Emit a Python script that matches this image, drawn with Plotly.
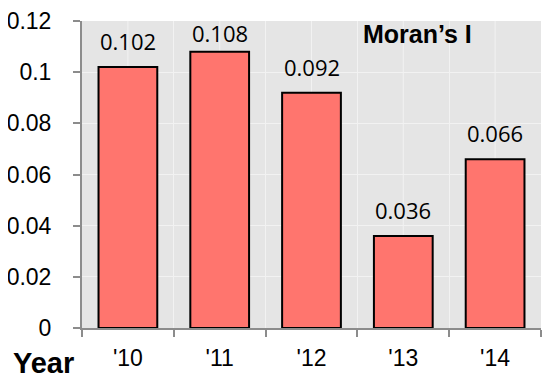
import plotly.graph_objects as go

years = ["'10", "'11", "'12", "'13", "'14"]
morans_i = [0.102, 0.108, 0.092, 0.036, 0.066]
value_labels = ["0.102", "0.108", "0.092", "0.036", "0.066"]
y_ticks = [0, 0.02, 0.04, 0.06, 0.08, 0.1, 0.12]
y_tick_text = ["0", "0.02", "0.04", "0.06", "0.08", "0.1", "0.12"]

OFF = 8  # browser default body margin
W, H = 550 - OFF, 379 - OFF
# plot area in page coordinates: x 82..541, y 21..328
ML, MR, MT, MB = 82 - OFF, 9, 21 - OFF, 51
ymax = 0.12
plot_h = H - MT - MB
plot_w = W - ML - MR
label_h = 30


def px_x(page_x):
    return (page_x - OFF - ML) / plot_w


def px_y(page_y):
    return (H - MB - (page_y - OFF)) / plot_h


fig = go.Figure()
fig.add_trace(go.Bar(
    x=years, y=morans_i,
    marker=dict(color="#FF756E", line=dict(color="black", width=2)),
    width=0.64,
))

# value labels above bars, kept inside the plot area
for x, v, t in zip(years, morans_i, value_labels):
    top_px = (v / ymax) * plot_h
    room = plot_h - top_px - label_h + 1
    shift = max(0, min(9, room))
    fig.add_annotation(x=x, y=v, text=t, showarrow=False, yanchor="bottom",
                       yshift=shift,
                       font=dict(family="Open Sans", size=22, color="black"))

# light gridlines at category centres
for x in years:
    fig.add_shape(type="line", x0=x, x1=x, y0=0, y1=1, yref="paper",
                  line=dict(color="#F2F2F2", width=1), layer="below")

fig.add_annotation(x=px_x(417), y=px_y(34), xref="paper", yref="paper",
                   text="<b>Moran’s I</b>",
                   showarrow=False, xanchor="center", yanchor="middle",
                   font=dict(family="Liberation Sans", size=25, color="black"))
fig.add_annotation(x=px_x(11), y=px_y(363), xref="paper", yref="paper",
                   text="<b>Year</b>",
                   showarrow=False, xanchor="left", yanchor="middle",
                   font=dict(family="Liberation Sans", size=29, color="black"))

fig.update_layout(
    width=W, height=H,
    margin=dict(l=ML, r=MR, t=MT, b=MB, autoexpand=False),
    paper_bgcolor="white", plot_bgcolor="#E5E5E5",
    showlegend=False,
    bargap=0.36,
)
fig.update_xaxes(
    type="category", tickson="boundaries", ticks="outside", ticklen=7,
    tickcolor="#8C8C8C", tickwidth=2, automargin=False,
    showline=True, linecolor="#8C8C8C", linewidth=2,
    showgrid=True, gridcolor="#F2F2F2", gridwidth=1,
    tickfont=dict(family="Liberation Sans", size=23, color="black"),
    ticklabelstandoff=8,
    range=[-0.5, 4.5],
)
fig.update_yaxes(
    range=[0, ymax], tickvals=y_ticks, ticktext=y_tick_text,
    ticks="outside", ticklen=7, tickcolor="#8C8C8C", tickwidth=2, automargin=False,
    showline=True, linecolor="#8C8C8C", linewidth=2,
    showgrid=True, gridcolor="#F2F2F2", gridwidth=1, zeroline=False,
    tickfont=dict(family="Liberation Sans", size=23, color="black"),
    ticklabelstandoff=17,
)

fig.write_html("out.html")
